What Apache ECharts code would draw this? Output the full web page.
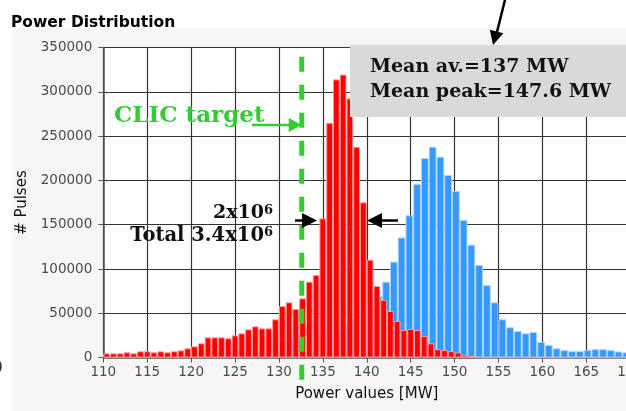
<!DOCTYPE html>
<html><head><meta charset="utf-8">
<script src="https://cdn.jsdelivr.net/npm/echarts@6/dist/echarts.min.js"></script>
<style>html,body{margin:0;padding:0;background:#fff}#c{width:626px;height:411px}</style>
</head><body><div id="c"></div>
<script>
// ---- data ----
const X_MIN = 110, X_MAX = 170, X_STEP = 5;
const Y_MIN = 0, Y_MAX = 350000, Y_STEP = 50000;
// red histogram: average power (78 bins across 110..170 MW)
const redCounts = [
  4800,4800,4800,6000,4800,7100,7100,6000,7100,6000,7100,8200,10500,12700,
  16100,22900,22900,22900,21800,25100,27400,31900,35300,33000,33000,43200,58200,62400,
  54800,66900,85700,93200,157200,265100,314100,319500,292700,238000,175300,110500,80800,65000,
  52600,41300,31100,32300,31100,24400,16100,9400,8400,7200,5800,2600,1600,400,
  0,0,0,0,0,0,0,0,0,0,0,0,0,0,0,0,0,0,0,0,0,0
];
// blue histogram: peak power (68 bins across 110..170 MW)
const blueCounts = [
  2500,2800,3000,3300,3500,3800,4000,4300,4500,4800,5200,5600,6000,
  5500,6000,7100,6500,8600,7500,8500,9000,10000,12800,18400,19500,20500,
  22200,25500,27000,29300,32000,36800,44300,53800,58000,69500,85700,
  108300,135700,160600,195900,225300,238100,226800,206100,188000,155300,127500,104500,
  81900,62400,43200,34200,30000,27400,28900,17600,14200,10500,
  8400,7300,7300,8400,9500,9500,8400,6900,6000
];
const clicTarget = 132.6;
const titleText = 'Power Distribution';
const xName = 'Power values [MW]';
const yName = '# Pulses';
const meanLines = ['Mean av.=137 MW', 'Mean peak=147.6 MW'];
const countMain = '2x10', countExp = '6';
const totalMain = 'Total 3.4x10', totalExp = '6';

const redBins = redCounts.map((_, i) => (X_MIN + i * (X_MAX - X_MIN) / redCounts.length).toFixed(2));
const blueBins = blueCounts.map((_, i) => (X_MIN + i * (X_MAX - X_MIN) / blueCounts.length).toFixed(2));

const chart = echarts.init(document.getElementById('c'), null, {renderer: 'canvas'});
const lab = {fontFamily: 'DejaVu Sans', fontSize: 13.5, color: '#4a4a4a'};
const gridLine = {show: true, lineStyle: {color: '#333', width: 1.2}};
chart.setOption({
  animation: false,
  backgroundColor: '#ffffff',
  grid: {left: 103.3, width: 526.9, top: 47.6, height: 310, outerBoundsMode: 'none', containLabel: false,
         show: true, backgroundColor: '#ffffff', borderWidth: 0},
  xAxis: [
    {type: 'value', position: 'bottom', min: X_MIN, max: X_MAX, interval: X_STEP,
     axisLine: {show: true, lineStyle: {color: '#555', width: 1.5}},
     axisTick: {show: true, length: 5, lineStyle: {color: '#555'}},
     axisLabel: Object.assign({margin: 8}, lab),
     splitLine: gridLine,
     name: xName, nameLocation: 'middle', nameGap: 29,
     nameTextStyle: {fontFamily: 'DejaVu Sans', fontSize: 15, color: '#111'}},
    {type: 'category', position: 'top', data: redBins, show: false, boundaryGap: true},
    {type: 'category', position: 'top', data: blueBins, show: false, boundaryGap: true}
  ],
  yAxis: {type: 'value', min: Y_MIN, max: Y_MAX, interval: Y_STEP,
    axisLine: {show: true, lineStyle: {color: '#555', width: 1.5}},
    axisTick: {show: true, length: 5, lineStyle: {color: '#555'}},
    axisLabel: Object.assign({margin: 11, formatter: v => String(v)}, lab),
    splitLine: gridLine,
    name: yName, nameLocation: 'middle', nameGap: 70,
    nameTextStyle: {fontFamily: 'DejaVu Sans', fontSize: 15, color: '#111'}},
  series: [
    {type: 'bar', xAxisIndex: 2, data: blueCounts, barCategoryGap: '0%', z: 2,
     itemStyle: {color: '#3399ff', borderColor: '#a9d3ff', borderWidth: 1}},
    {type: 'bar', xAxisIndex: 1, data: redCounts, barCategoryGap: '0%', z: 3,
     itemStyle: {color: '#ff0000', borderColor: '#ff9a9a', borderWidth: 1}}
  ]
});

const gx = chart.convertToPixel({xAxisIndex: 0}, clicTarget);
const green = '#33cc33';
const serif = 'DejaVu Serif';
function arrowHead(tipX, tipY, baseX, baseY, half, color) {
  const dx = tipX - baseX, dy = tipY - baseY, L = Math.hypot(dx, dy);
  const px = -dy / L * half, py = dx / L * half;
  return {type: 'polygon', z: 50, shape: {points: [[tipX, tipY], [baseX + px, baseY + py], [baseX - px, baseY - py]]}, style: {fill: color}};
}
chart.setOption({
  graphic: [
    {type: 'rect', z: -100, shape: {x: 12, y: 28, width: 620, height: 390}, style: {fill: '#f6f6f6'}},
    {type: 'text', z: 50, x: 11, y: 15, style: {text: titleText, font: 'bold 15.5px DejaVu Sans', fill: '#000'}},
    {type: 'text', z: 50, x: -8, y: 360, style: {text: '0', font: '17px DejaVu Sans', fill: '#333'}},
    {type: 'line', z: 40, shape: {x1: gx, y1: 56.7, x2: gx, y2: 381}, style: {stroke: green, lineWidth: 5, lineDash: [15, 13]}},
    {type: 'text', z: 50, x: 114, y: 105, style: {text: 'CLIC target', font: 'bold 23px ' + serif, fill: green}},
    {type: 'line', z: 50, shape: {x1: 252, y1: 125, x2: 292, y2: 125}, style: {stroke: green, lineWidth: 2.5}},
    arrowHead(gx, 125, gx - 13, 125, 7, green),
    {type: 'rect', z: 45, shape: {x: 350, y: 45, width: 280, height: 72}, style: {fill: '#d9d9d9'}},
    {type: 'text', z: 50, x: 370, y: 58, style: {text: meanLines[0], font: 'bold 19px ' + serif, fill: '#111'}},
    {type: 'text', z: 50, x: 370, y: 83, style: {text: meanLines[1], font: 'bold 19px ' + serif, fill: '#111'}},
    {type: 'line', z: 50, shape: {x1: 505, y1: 0, x2: 497, y2: 32}, style: {stroke: '#000', lineWidth: 2.5}},
    arrowHead(493, 45, 496.6, 31.5, 7, '#000'),
    {type: 'text', z: 50, x: 273, y: 204, style: {text: '{n|' + countMain + '}{s|' + countExp + '}', align: 'right',
      rich: {n: {font: 'bold 19px ' + serif, fill: '#111'}, s: {font: 'bold 13px ' + serif, fill: '#111', verticalAlign: 'top'}}}},
    {type: 'text', z: 50, x: 273, y: 226, style: {text: '{n|' + totalMain + '}{s|' + totalExp + '}', align: 'right',
      rich: {n: {font: 'bold 19.5px ' + serif, fill: '#111'}, s: {font: 'bold 13px ' + serif, fill: '#111', verticalAlign: 'top'}}}},
    {type: 'line', z: 50, shape: {x1: 295, y1: 220.5, x2: 305, y2: 220.5}, style: {stroke: '#000', lineWidth: 2.5}},
    arrowHead(317, 220.5, 302, 220.5, 7.5, '#000'),
    {type: 'line', z: 50, shape: {x1: 380, y1: 220.5, x2: 398, y2: 220.5}, style: {stroke: '#000', lineWidth: 2.5}},
    arrowHead(367, 220.5, 382, 220.5, 7.5, '#000')
  ]
});
</script></body></html>
